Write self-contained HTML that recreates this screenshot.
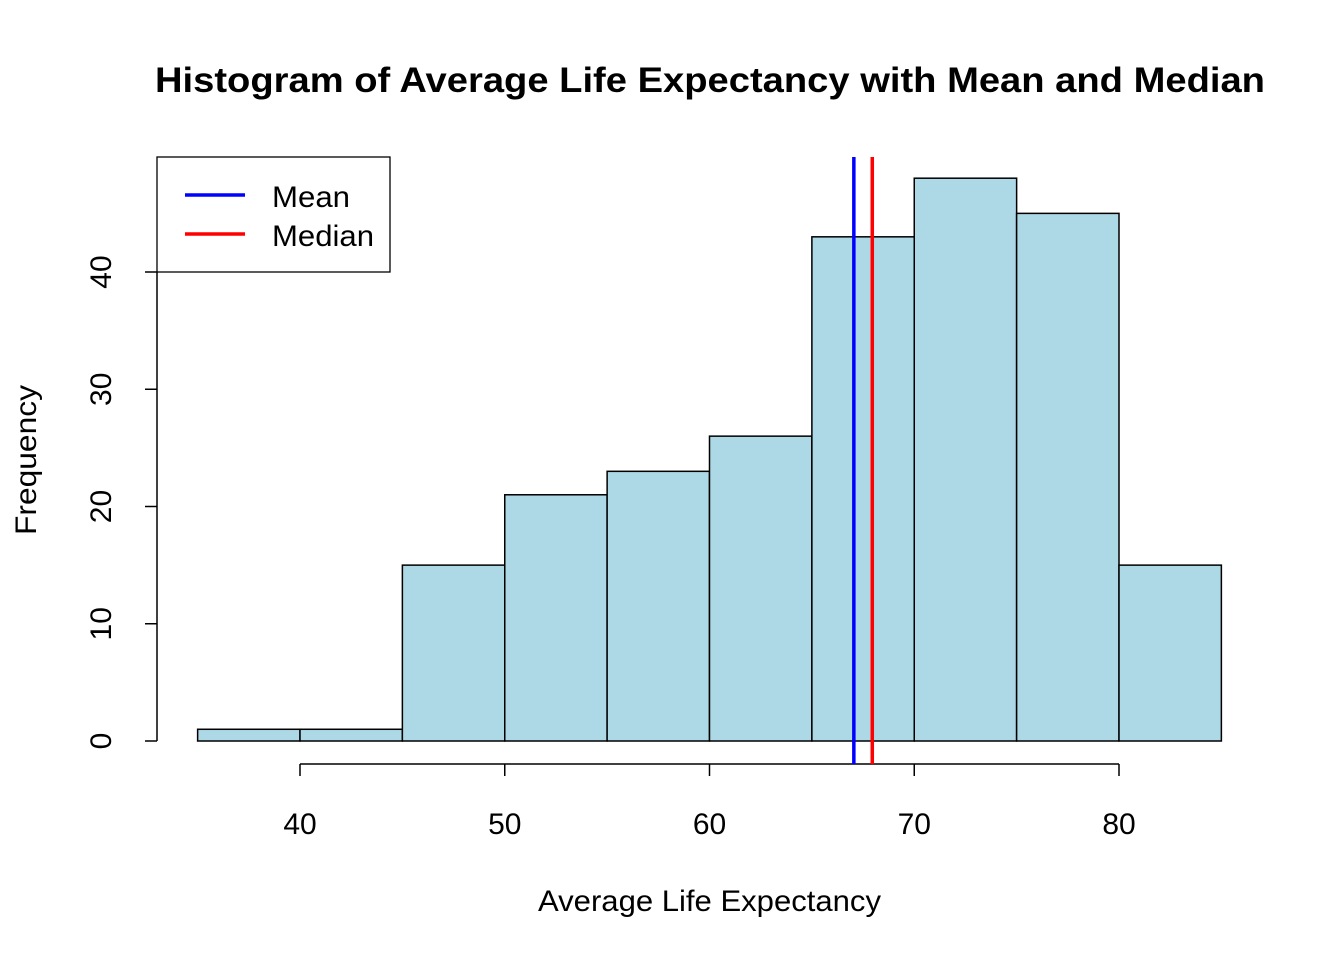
<!DOCTYPE html>
<html><head><meta charset="utf-8">
<style>
html,body{margin:0;padding:0;background:#fff;}
svg{display:block;font-family:"Liberation Sans",Arial,sans-serif;}
</style></head>
<body>
<svg id="chart" width="1344" height="960" viewBox="0 0 1344 960" xmlns="http://www.w3.org/2000/svg">
<text x="155" y="92" font-size="35" font-weight="bold" textLength="1110" lengthAdjust="spacingAndGlyphs">Histogram of Average Life Expectancy with Mean and Median</text>
<g id="bars"></g>
<g id="axes"></g>
<g id="lines"></g>
<text x="538" y="911" font-size="30" textLength="343" lengthAdjust="spacingAndGlyphs">Average Life Expectancy</text>
<text transform="translate(36,535) rotate(-90)" font-size="30" textLength="150" lengthAdjust="spacingAndGlyphs">Frequency</text>
<g>
<rect x="157" y="157" width="233" height="115" fill="#fff" stroke="#000" stroke-width="1.3"/>
<line x1="185" y1="195" x2="245" y2="195" stroke="#0000ff" stroke-width="3.5"/>
<text x="272" y="207" font-size="30" textLength="78" lengthAdjust="spacingAndGlyphs">Mean</text>
<line x1="185" y1="234" x2="245" y2="234" stroke="#ff0000" stroke-width="3.5"/>
<text x="272" y="246" font-size="30" textLength="102" lengthAdjust="spacingAndGlyphs">Median</text>
</g>
</svg>
<script>
const binStarts = [35,40,45,50,55,60,65,70,75,80];
const binWidth = 5;
const counts = [1,1,15,21,23,26,43,48,45,15];
const xTicks = [40,50,60,70,80];
const yTicks = [0,10,20,30,40];
const meanValue = 67.05;
const medianValue = 67.95;

const NS = "http://www.w3.org/2000/svg";
const xs = v => 300 + (v - 40) * 20.475;
const ys = v => 741 - v * 11.725;
function mk(tag, attrs, parent){
  const e = document.createElementNS(NS, tag);
  for (const k in attrs) e.setAttribute(k, attrs[k]);
  parent.appendChild(e); return e;
}
const bars = document.getElementById('bars');
binStarts.forEach((b,i)=>{
  const r = mk('rect',{x:xs(b),y:ys(counts[i]),width:xs(b+binWidth)-xs(b),height:ys(0)-ys(counts[i]),fill:'#add8e6',stroke:'#000','stroke-width':1.5},bars);
  
  
});
const axes = document.getElementById('axes');
const yl = mk('line',{x1:157,y1:ys(yTicks[0]),x2:157,y2:ys(yTicks[yTicks.length-1]),stroke:'#000','stroke-width':1.5},axes);


yTicks.forEach(t=>{
  const l = mk('line',{x1:145,y1:ys(t),x2:157,y2:ys(t),stroke:'#000','stroke-width':1.5},axes);
  
  
  const tx = mk('text',{transform:`translate(111,${ys(t)}) rotate(-90)`,'text-anchor':'middle','font-size':30},axes);
  tx.textContent = t;
  
  
});
const xl = mk('line',{x1:xs(xTicks[0]),y1:764,x2:xs(xTicks[xTicks.length-1]),y2:764,stroke:'#000','stroke-width':1.5},axes);


xTicks.forEach(t=>{
  const l = mk('line',{x1:xs(t),y1:764,x2:xs(t),y2:776,stroke:'#000','stroke-width':1.5},axes);
  
  
  const tx = mk('text',{x:xs(t),y:834,'text-anchor':'middle','font-size':30},axes);
  tx.textContent = t;
  
  
});
const lines = document.getElementById('lines');
const ml = mk('line',{x1:xs(meanValue),y1:157,x2:xs(meanValue),y2:764,stroke:'#0000ff','stroke-width':3.5},lines);


const dl = mk('line',{x1:xs(medianValue),y1:157,x2:xs(medianValue),y2:764,stroke:'#ff0000','stroke-width':3.5},lines);


</script>
</body></html>
